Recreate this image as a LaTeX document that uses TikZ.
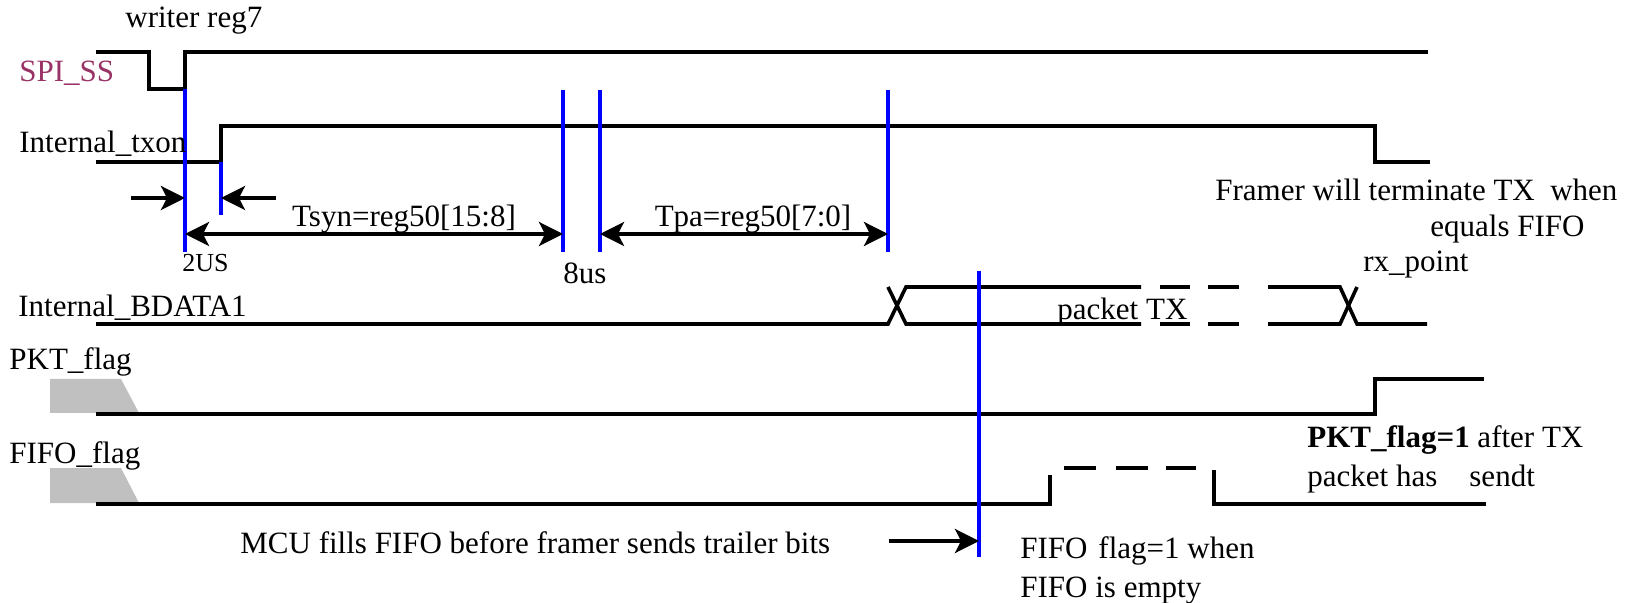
\documentclass[tikz,border=0pt]{standalone}
\usepackage{fontspec}
\setmainfont{Liberation Serif}
\usetikzlibrary{arrows.meta}
\definecolor{ssred}{RGB}{153,51,102}
\definecolor{flaggray}{RGB}{192,192,192}
\definecolor{mkblue}{RGB}{0,0,255}
\begin{document}
\begin{tikzpicture}[x=0.5pt,y=-0.5pt,
  sig/.style={line width=1.8pt, line join=miter},
  mk/.style={draw=mkblue, line width=1.7pt},
  lbl/.style={font=\fontsize{15.5}{18}\selectfont, inner sep=0pt, anchor=base west},
  small/.style={font=\fontsize{13}{15}\selectfont},
  tip/.tip={Stealth[length=12pt,width=12pt,inset=3pt]},
  arr/.style={line width=1.8pt, -tip},
  darr/.style={line width=1.8pt, tip-tip},
  ]
\useasboundingbox (0,0) rectangle (1636,603);

% ---------- signals ----------
% SPI_SS
\draw[sig] (96,52) -- (149,52) -- (149,89) -- (185,89) -- (185,52) -- (1428,52);
% Internal_txon
\draw[sig] (96,162) -- (221,162) -- (221,126) -- (1375,126) -- (1375,162) -- (1430,162);
% Internal_BDATA1
\draw[sig] (96,324) -- (888,324) -- (906,287) -- (1141,287);
\draw[sig] (888,287) -- (906,324) -- (1141,324);
\draw[sig] (1160,287) -- (1190,287);
\draw[sig] (1160,324) -- (1190,324);
\draw[sig] (1208,287) -- (1239,287);
\draw[sig] (1208,324) -- (1239,324);
\draw[sig] (1268,287) -- (1340,287) -- (1357,324) -- (1427,324);
\draw[sig] (1268,324) -- (1340,324) -- (1357,287);
% PKT_flag
\fill[flaggray] (50,379) -- (121,379) -- (139,413) -- (50,413) -- cycle;
\draw[sig] (96,414) -- (1375,414) -- (1375,379) -- (1484,379);
% FIFO_flag
\fill[flaggray] (50,468) -- (121,468) -- (139,503) -- (50,503) -- cycle;
\draw[sig] (96,504) -- (1050,504) -- (1050,475);
\draw[sig] (1064,468) -- (1096,468);
\draw[sig] (1116,468) -- (1148,468);
\draw[sig] (1166,468) -- (1196,468);
\draw[sig] (1214,470) -- (1214,504) -- (1486,504);

% ---------- blue markers ----------
\coordinate (m1t) at (185,89);  \coordinate (m1b) at (185,252);
\coordinate (m2t) at (221,162); \coordinate (m2b) at (221,215);
\coordinate (m3t) at (563,90);  \coordinate (m3b) at (563,252);
\coordinate (m4t) at (600,90);  \coordinate (m4b) at (600,252);
\coordinate (m5t) at (888,90);  \coordinate (m5b) at (888,252);
\coordinate (m6t) at (979,271); \coordinate (m6b) at (979,557);
\draw[mk] (m1t) -- (m1b);
\draw[mk] (m2t) -- (m2b);
\draw[mk] (m3t) -- (m3b);
\draw[mk] (m4t) -- (m4b);
\draw[mk] (m5t) -- (m5b);
\draw[mk] (m6t) -- (m6b);

% ---------- dimension arrows ----------
\coordinate (a1s) at (131,198); \coordinate (a1e) at (185,198);
\coordinate (a2s) at (276,198); \coordinate (a2e) at (221,198);
\coordinate (d1s) at (185,234); \coordinate (d1e) at (563,234);
\coordinate (d2s) at (600,234); \coordinate (d2e) at (888,234);
\coordinate (mcs) at (889,541); \coordinate (mce) at (979,541);
\draw[arr] (a1s) -- (a1e);
\draw[arr] (a2s) -- (a2e);
\draw[darr] (d1s) -- (d1e);
\draw[darr] (d2s) -- (d2e);
\draw[arr] (mcs) -- (mce);

% ---------- labels ----------
\node[lbl] (wr) at (125,28) {writer reg7};
\node[lbl, text=ssred] (ss) at (19,82) {SPI\_SS};
\node[lbl] (txon) at (19,153) {Internal\_txon};
\node[lbl] (bd) at (18,317) {Internal\_BDATA1};
\node[lbl] (pkt) at (9,370) {PKT\_flag};
\node[lbl] (fifo) at (9,464) {FIFO\_flag};
\node[lbl, anchor=base] (tsyn) at (404,227) {Tsyn=reg50[15:8]};
\node[lbl, anchor=base] (tpa) at (753,227) {Tpa=reg50[7:0]};
\node[lbl, small] (t2) at (182,272) {2US};
\node[lbl] (t8) at (563,284) {8us};
\node[lbl] (ptx) at (1057,320) {packet TX};
\node[lbl] (fr1) at (1215,201) {Framer will terminate TX\ \ when};
\node[lbl] (fr2) at (1430,237) {equals FIFO};
\node[lbl] (fr3) at (1363,272) {rx\_point};
\node[lbl] (pk1) at (1307,448) {\textbf{PKT\_flag=1} after TX};
\node[lbl] (pk2) at (1307,487) {\makebox[81pt][l]{packet has}sendt};
\node[lbl] (ff1) at (1020,558) {FIFO\hspace{0.35em}flag=1 when};
\node[lbl] (ff2) at (1020,597) {FIFO is empty};
\node[lbl] (mcu) at (240,553) {MCU fills FIFO before framer sends trailer bits};
\end{tikzpicture}
\end{document}
